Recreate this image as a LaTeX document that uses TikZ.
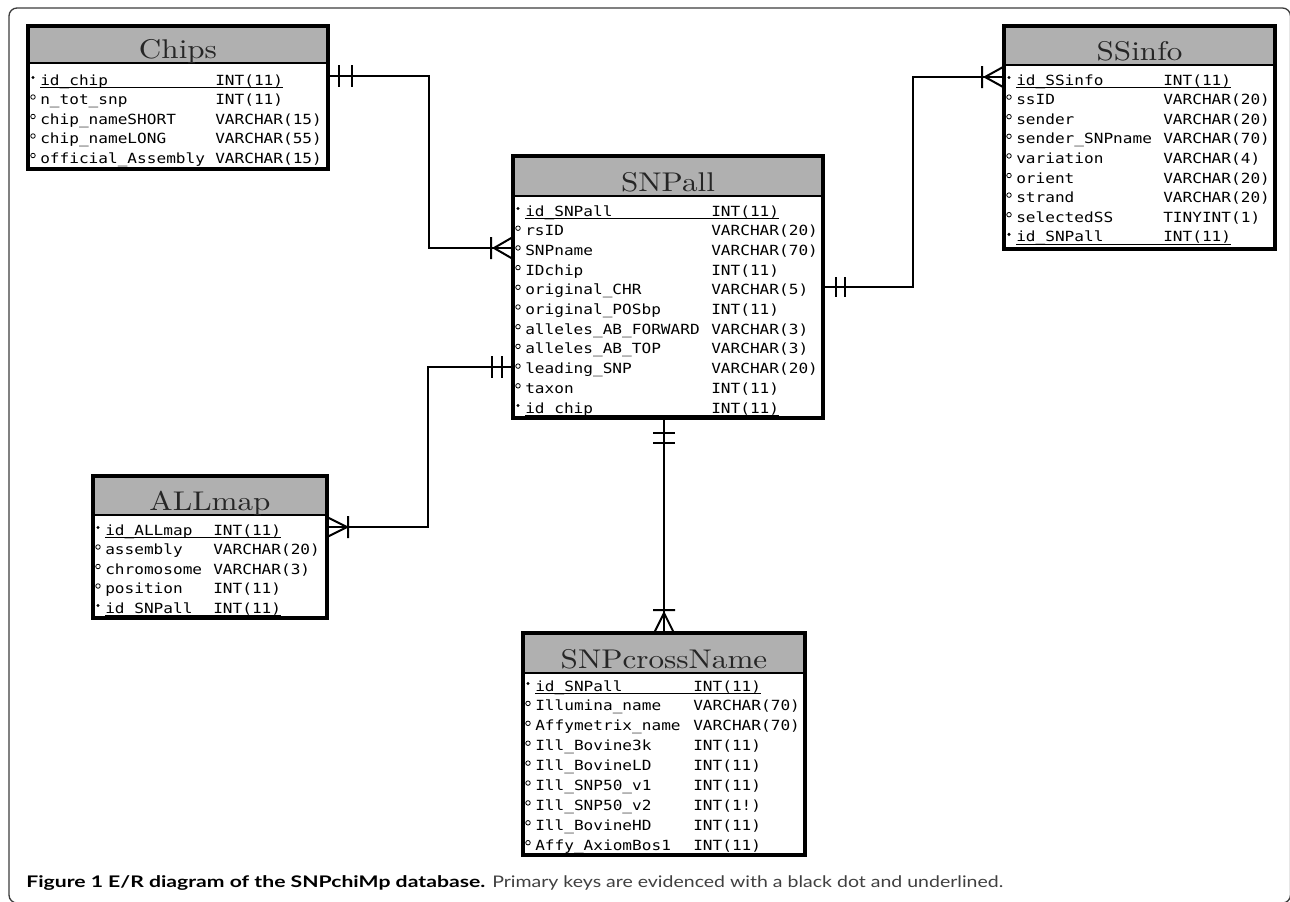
\documentclass[tikz,border=0pt]{standalone}
\usepackage{fontspec}
\usepackage{graphicx}
\usetikzlibrary{fit,calc}
\newfontfamily\rowfont[FakeStretch=1.15]{DejaVu Sans Mono}
\newfontfamily\titlefont[FakeStretch=1.15]{lmroman10-regular.otf}
\newfontfamily\capfont{Lato}
\definecolor{hdr}{RGB}{176,176,176}
\definecolor{framec}{RGB}{60,60,60}
\tikzset{
 tbl/.style={draw=black, line width=2.3pt, inner sep=0pt, outer sep=0pt},
 hdrbox/.style={fill=hdr, inner sep=0pt, outer sep=0pt},
 sepline/.style={line width=2.1pt},
 ttl/.style={font=\titlefont\fontsize{20.3}{22}\selectfont, inner sep=0pt, anchor=base, text=black!85},
 fld/.style={font=\rowfont\fontsize{10.5}{12}\selectfont, inner sep=0pt, anchor=base west},
 mkp/.style={circle, fill=black, inner sep=0pt, minimum size=2.6pt},
 mkc/.style={circle, draw=black, line width=0.6pt, inner sep=0pt, minimum size=3.4pt},
 ulp/.style={draw, line width=0.9pt},
 ulc/.style={},
 conn/.style={line width=1.5pt, black},
 barline/.style={line width=1.5pt, black},
 captxt/.style={anchor=base west, inner sep=0pt, font=\capfont\fontsize{12}{14}\selectfont},
}
\begin{document}
\begin{tikzpicture}[x=0.75pt,y=-0.75pt]
\useasboundingbox (0,0) rectangle (1290,901);
\draw[framec, line width=1pt, rounded corners=6pt] (9,8) rectangle (1290.5,903);

% ---------- Chips
\node (chips-h) [hdrbox, fit={(28,26)(328,63)}] {};
\node (chips) [tbl, fit={(28,26)(328,169)}] {};
\draw[sepline] (chips-h.south west) -- (chips-h.south east);
\node (chips-t) [ttl] at (178,58.5) {Chips};
\foreach \k/\n/\t [count=\i from 0] in {p/id\_chip/INT(11), c/n\_tot\_snp/INT(11), c/chip\_nameSHORT/VARCHAR(15), c/chip\_nameLONG/VARCHAR(55), c/official\_Assembly/VARCHAR(15)} {
 \pgfmathsetmacro\yy{80+\i*19.5}
 \node (chips-n\i) [fld] at (40,\yy+5) {\n};
 \node (chips-y\i) [fld] at (215,\yy+5) {\t};
 \node (chips-m\i) [mk\k] at (33,\yy-2.5) {};
 \path[ul\k] ($(chips-n\i.base west)+(0,2.5)$) -- ($(chips-y\i.base east)+(0,2.5)$);
}

% ---------- SNPall
\node (snpall-h) [hdrbox, fit={(513,156)(823,196)}] {};
\node (snpall) [tbl, fit={(513,156)(823,418)}] {};
\draw[sepline] (snpall-h.south west) -- (snpall-h.south east);
\node (snpall-t) [ttl] at (668,191.5) {SNPall};
\foreach \k/\n/\t [count=\i from 0] in {p/id\_SNPall/INT(11), c/rsID/VARCHAR(20), c/SNPname/VARCHAR(70), c/IDchip/INT(11), c/original\_CHR/VARCHAR(5), c/original\_POSbp/INT(11), c/alleles\_AB\_FORWARD/VARCHAR(3), c/alleles\_AB\_TOP/VARCHAR(3), c/leading\_SNP/VARCHAR(20), c/taxon/INT(11), p/id\_chip/INT(11)} {
 \pgfmathsetmacro\yy{211+\i*19.7}
 \node (snpall-n\i) [fld] at (525,\yy+5) {\n};
 \node (snpall-y\i) [fld] at (711,\yy+5) {\t};
 \node (snpall-m\i) [mk\k] at (518,\yy-2.5) {};
 \path[ul\k] ($(snpall-n\i.base west)+(0,2.5)$) -- ($(snpall-y\i.base east)+(0,2.5)$);
}

% ---------- SSinfo
\node (ssinfo-h) [hdrbox, fit={(1004,26)(1275,65)}] {};
\node (ssinfo) [tbl, fit={(1004,26)(1275,249)}] {};
\draw[sepline] (ssinfo-h.south west) -- (ssinfo-h.south east);
\node (ssinfo-t) [ttl] at (1139.5,60.5) {SSinfo};
\foreach \k/\n/\t [count=\i from 0] in {p/id\_SSinfo/INT(11), c/ssID/VARCHAR(20), c/sender/VARCHAR(20), c/sender\_SNPname/VARCHAR(70), c/variation/VARCHAR(4), c/orient/VARCHAR(20), c/strand/VARCHAR(20), c/selectedSS/TINYINT(1), p/id\_SNPall/INT(11)} {
 \pgfmathsetmacro\yy{80+\i*19.6}
 \node (ssinfo-n\i) [fld] at (1016,\yy+5) {\n};
 \node (ssinfo-y\i) [fld] at (1163,\yy+5) {\t};
 \node (ssinfo-m\i) [mk\k] at (1009,\yy-2.5) {};
 \path[ul\k] ($(ssinfo-n\i.base west)+(0,2.5)$) -- ($(ssinfo-y\i.base east)+(0,2.5)$);
}

% ---------- ALLmap
\node (allmap-h) [hdrbox, fit={(93,476)(327,515)}] {};
\node (allmap) [tbl, fit={(93,476)(327,618)}] {};
\draw[sepline] (allmap-h.south west) -- (allmap-h.south east);
\node (allmap-t) [ttl] at (210,510.5) {ALLmap};
\foreach \k/\n/\t [count=\i from 0] in {p/id\_ALLmap/INT(11), c/assembly/VARCHAR(20), c/chromosome/VARCHAR(3), c/position/INT(11), p/id\_SNPall/INT(11)} {
 \pgfmathsetmacro\yy{530+\i*19.5}
 \node (allmap-n\i) [fld] at (105,\yy+5) {\n};
 \node (allmap-y\i) [fld] at (213,\yy+5) {\t};
 \node (allmap-m\i) [mk\k] at (98,\yy-2.5) {};
 \path[ul\k] ($(allmap-n\i.base west)+(0,2.5)$) -- ($(allmap-y\i.base east)+(0,2.5)$);
}

% ---------- SNPcrossName
\node (cross-h) [hdrbox, fit={(523,633)(805,673)}] {};
\node (cross) [tbl, fit={(523,633)(805,855)}] {};
\draw[sepline] (cross-h.south west) -- (cross-h.south east);
\node (cross-t) [ttl] at (664,668.5) {SNPcrossName};
\foreach \k/\n/\t [count=\i from 0] in {p/id\_SNPall/INT(11), c/Illumina\_name/VARCHAR(70), c/Affymetrix\_name/VARCHAR(70), c/Ill\_Bovine3k/INT(11), c/Ill\_BovineLD/INT(11), c/Ill\_SNP50\_v1/INT(11), c/Ill\_SNP50\_v2/INT(1!), c/Ill\_BovineHD/INT(11), c/Affy\_AxiomBos1/INT(11)} {
 \pgfmathsetmacro\yy{686+\i*19.9}
 \node (cross-n\i) [fld] at (535,\yy+5) {\n};
 \node (cross-y\i) [fld] at (693,\yy+5) {\t};
 \node (cross-m\i) [mk\k] at (528,\yy-2.5) {};
 \path[ul\k] ($(cross-n\i.base west)+(0,2.5)$) -- ($(cross-y\i.base east)+(0,2.5)$);
}

% ---------- Connectors
% Chips -- SNPall
\coordinate (c1a) at (429,76);
\coordinate (c1b) at (429,248);
\coordinate (e1a) at (chips.east |- c1a);
\coordinate (e1b) at (snpall.west |- c1b);
\draw[conn] (e1a) -- (c1a) -- (c1b) -- (e1b);
\draw[barline] ($(e1a)+(11,-11)$) -- ($(e1a)+(11,11)$)
               ($(e1a)+(24,-11)$) -- ($(e1a)+(24,11)$);
\draw[barline] ($(e1b)+(-19,0)$) -- ($(e1b)+(0,-11)$)
               ($(e1b)+(-19,0)$) -- ($(e1b)+(0,11)$)
               ($(e1b)+(-22,-11)$) -- ($(e1b)+(-22,11)$);

% SNPall -- SSinfo
\coordinate (c2a) at (913,287);
\coordinate (c2b) at (913,77);
\coordinate (e2a) at (snpall.east |- c2a);
\coordinate (e2b) at (ssinfo.west |- c2b);
\draw[conn] (e2a) -- (c2a) -- (c2b) -- (e2b);
\draw[barline] ($(e2a)+(13,-10)$) -- ($(e2a)+(13,10)$)
               ($(e2a)+(22,-10)$) -- ($(e2a)+(22,10)$);
\draw[barline] ($(e2b)+(-19,0)$) -- ($(e2b)+(0,-10.5)$)
               ($(e2b)+(-19,0)$) -- ($(e2b)+(0,10.5)$)
               ($(e2b)+(-22,-11)$) -- ($(e2b)+(-22,11)$);

% SNPall -- ALLmap
\coordinate (c3a) at (428,367);
\coordinate (c3b) at (428,527);
\coordinate (e3a) at (snpall.west |- c3a);
\coordinate (e3b) at (allmap.east |- c3b);
\draw[conn] (e3a) -- (c3a) -- (c3b) -- (e3b);
\draw[barline] ($(e3a)+(-21,-11)$) -- ($(e3a)+(-21,11)$)
               ($(e3a)+(-11,-11)$) -- ($(e3a)+(-11,11)$);
\draw[barline] ($(e3b)+(20,0)$) -- ($(e3b)+(0,-10)$)
               ($(e3b)+(20,0)$) -- ($(e3b)+(0,10)$)
               ($(e3b)+(21,-11)$) -- ($(e3b)+(21,11)$);

% SNPall -- SNPcrossName
\coordinate (c4) at (664,500);
\coordinate (e4a) at (snpall.south -| c4);
\coordinate (e4b) at (cross.north -| c4);
\draw[conn] (e4a) -- (e4b);
\draw[barline] ($(e4a)+(-11,15)$) -- ($(e4a)+(11,15)$)
               ($(e4a)+(-11,25)$) -- ($(e4a)+(11,25)$);
\draw[barline] ($(e4b)+(0,-20)$) -- ($(e4b)+(-10,0)$)
               ($(e4b)+(0,-20)$) -- ($(e4b)+(10,0)$)
               ($(e4b)+(-11,-23)$) -- ($(e4b)+(11,-23)$);

% ---------- Caption
\node (capb) [captxt, text=black] at (26,887)
 {\resizebox{344.25pt}{\height}{\bfseries Figure 1 E/R diagram of the SNPchiMp database.}};
\node (capr) [captxt, text=black!75] at (492,887)
 {\resizebox{383.25pt}{\height}{Primary keys are evidenced with a black dot and underlined.}};
\end{tikzpicture}
\end{document}
